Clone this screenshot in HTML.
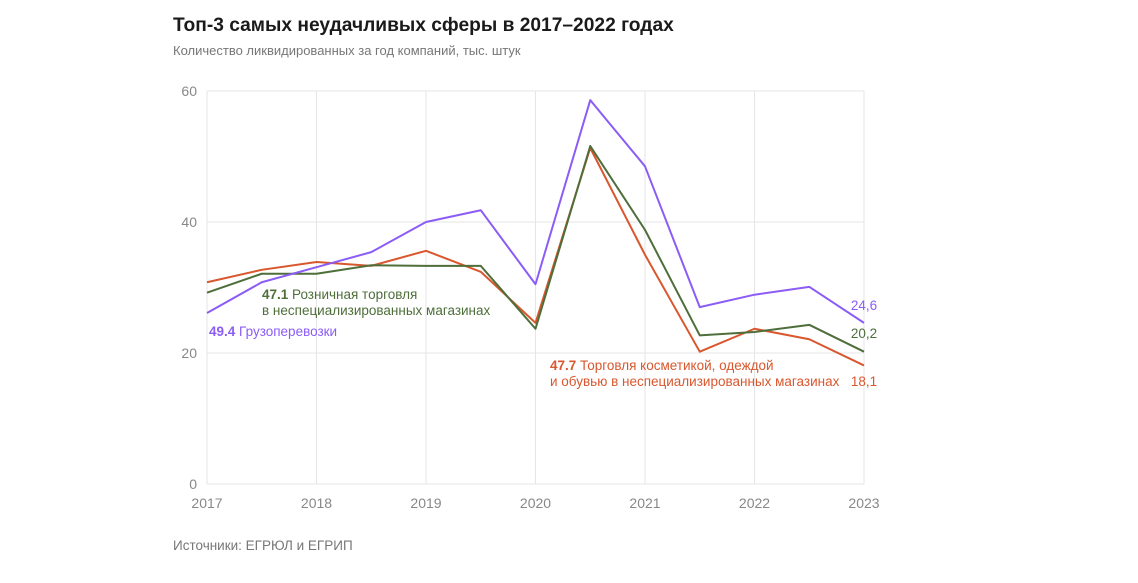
<!DOCTYPE html>
<html><head><meta charset="utf-8"><style>
body{margin:0;background:#fff;font-family:"Liberation Sans",sans-serif;}
svg text{font-family:"Liberation Sans",sans-serif;}
</style></head><body>
<svg width="1138" height="578">
<text x="173" y="31" font-size="19.2" font-weight="bold" fill="#1a1a1a">Топ-3 самых неудачливых сферы в 2017–2022 годах</text>
<text x="173" y="55" font-size="13" fill="#777">Количество ликвидированных за год компаний, тыс. штук</text>
<g id="grid"></g><g id="lines"></g><g id="labels"></g>
<text x="173" y="550" font-size="13.5" fill="#777">Источники: ЕГРЮЛ и ЕГРИП</text>
</svg>
<script>
const years=[2017,2018,2019,2020,2021,2022,2023];
const yTicks=[0,20,40,60];
const xs=[2017,2017.5,2018,2018.5,2019,2019.5,2020,2020.5,2021,2021.5,2022,2022.5,2023];
const purple=[26.1,30.8,33.1,35.4,40,41.8,30.5,58.6,48.5,27.0,28.9,30.1,24.6];
const green=[29.2,32.1,32.1,33.4,33.3,33.3,23.7,51.6,38.8,22.7,23.2,24.3,20.2];
const orange=[30.8,32.7,33.9,33.3,35.6,32.4,24.6,51.3,35.0,20.2,23.7,22.1,18.1];
const NS="http://www.w3.org/2000/svg";
const X=v=>207+(v-2017)*(864-207)/6, Y=v=>484-v*(484-91)/60;
const grid=document.getElementById('grid'),lines=document.getElementById('lines');
function mk(tag,attrs,parent,text){const e=document.createElementNS(NS,tag);for(const k in attrs)e.setAttribute(k,attrs[k]);if(text!==undefined)e.textContent=text;parent.appendChild(e);return e;}
for(const y of years){const l=mk('line',{x1:X(y),x2:X(y),y1:91,y2:484,stroke:'#e6e6e6'},grid);


const t=mk('text',{x:X(y),y:508,'font-size':14,fill:'#888','text-anchor':'middle'},grid,y);

}
for(const v of yTicks){const l=mk('line',{x1:207,x2:864,y1:Y(v),y2:Y(v),stroke:'#e6e6e6'},grid);


const t=mk('text',{x:197,y:Y(v)+5,'font-size':14,fill:'#888','text-anchor':'end'},grid,v);

}
function series(data,color,name){const p=mk('polyline',{points:data.map((v,i)=>X(xs[i])+','+Y(v)).join(' '),fill:'none',stroke:color,'stroke-width':2,'stroke-linejoin':'round'},lines);

}
series(orange,'#d9572e','line-cosmetics');
series(green,'#4e6e3a','line-retail');
series(purple,'#8b5cf6','line-freight');
const lab=document.getElementById('labels');
function txt(x,y,c,parts,name,anchor){const t=mk('text',{x:x,y:y,'font-size':13.5,fill:c,'text-anchor':anchor||'start'},lab);t.innerHTML=parts;

}
txt(262,299,'#4e6e3a','<tspan font-weight="bold">47.1</tspan> Розничная торговля','label-retail');
txt(262,315,'#4e6e3a','в неспециализированных магазинах','label-retail-2');
txt(209,336,'#8b5cf6','<tspan font-weight="bold">49.4</tspan> Грузоперевозки','label-freight');
txt(550,370,'#d9572e','<tspan font-weight="bold">47.7</tspan> Торговля косметикой, одеждой','label-cosmetics');
txt(550,386,'#d9572e','и обувью в неспециализированных магазинах','label-cosmetics-2');
txt(864,310,'#8b5cf6',String(purple[12]).replace('.',','),'end-value-freight','middle');
txt(864,338,'#4e6e3a',String(green[12]).replace('.',','),'end-value-retail','middle');
txt(864,386,'#d9572e',String(orange[12]).replace('.',','),'end-value-cosmetics','middle');
</script>
</body></html>
